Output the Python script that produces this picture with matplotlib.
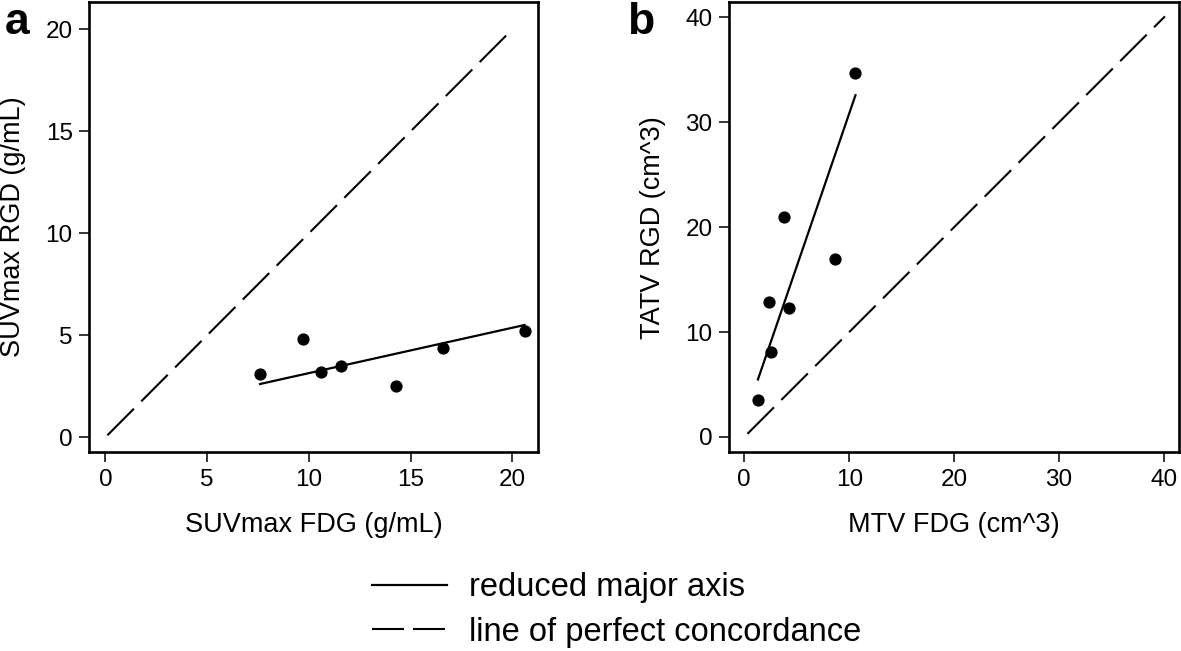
import numpy as np
import matplotlib
matplotlib.use("Agg")
import matplotlib.pyplot as plt
from matplotlib.lines import Line2D

plt.rcParams['font.family'] = ['Liberation Sans', 'DejaVu Sans']
plt.rcParams['lines.scale_dashes'] = False

# ---- data ----
suv_fdg = [7.6, 9.7, 10.6, 11.6, 14.3, 16.6, 20.6]
suv_rgd = [3.1, 4.8, 3.2, 3.5, 2.5, 4.4, 5.2]
mtv_fdg = [1.3, 2.5, 2.4, 4.3, 3.8, 8.6, 10.6]
tatv_rgd = [3.5, 8.1, 12.9, 12.3, 21.0, 17.0, 34.7]
concord_a = [0.1, 19.8]
concord_b = [0.3, 40.1]
xticks_a = [0, 5, 10, 15, 20]
yticks_a = [0, 5, 10, 15, 20]
xticks_b = [0, 10, 20, 30, 40]
yticks_b = [0, 10, 20, 30, 40]


def rma(x, y):
    x = np.asarray(x, float)
    y = np.asarray(y, float)
    r = np.corrcoef(x, y)[0, 1]
    slope = np.sign(r) * y.std() / x.std()
    inter = y.mean() - slope * x.mean()
    xs = np.array([x.min(), x.max()])
    return xs, inter + slope * xs


W, H = 1181, 651
fig = plt.figure(figsize=(W / 100, H / 100), dpi=100)


def px_axes(l, r, t, b):
    return fig.add_axes([l / W, 1 - b / H, (r - l) / W, (b - t) / H])


axA = px_axes(89.3, 538, 2, 452.3)
axB = px_axes(729.3, 1179.3, 2, 452.3)

DASH = (0, (27, 7.5))
for ax, x, y, conc, xt, yt, xl, yl, xlab, ylab in [
    (axA, suv_fdg, suv_rgd, concord_a, xticks_a, yticks_a, (-0.79, 21.26), (-0.735, 21.34),
     'SUVmax FDG (g/mL)', 'SUVmax RGD (g/mL)'),
    (axB, mtv_fdg, tatv_rgd, concord_b, xticks_b, yticks_b, (-1.43, 41.47), (-1.46, 41.47),
     'MTV FDG (cm^3)', 'TATV RGD (cm^3)'),
]:
    ax.plot(conc, conc, color='black', lw=1.5, linestyle=DASH, solid_capstyle='butt')
    rx, ry = rma(x, y)
    ax.plot(rx, ry, color='black', lw=1.6)
    ax.plot(x, y, 'o', color='black', ms=7.8, mec='black')
    ax.set_xlim(*xl)
    ax.set_ylim(*yl)
    ax.set_xticks(xt)
    ax.set_yticks(yt)
    ax.tick_params(direction='out', length=7, width=1.1, labelsize=17.5, pad=5, colors='black')
    for s in ax.spines.values():
        s.set_linewidth(1.9)
    ax.set_xlabel(xlab, fontsize=19.5, labelpad=15)
    ax.set_ylabel(ylab, fontsize=19.5, labelpad=14)

fig.text(5 / W, 1 - 34 / H, 'a', fontsize=32, fontweight='bold', ha='left', va='baseline')
fig.text(627 / W, 1 - 34 / H, 'b', fontsize=32, fontweight='bold', ha='left', va='baseline')

# ---- legend ----
handles = [Line2D([], [], color='black', lw=1.6),
           Line2D([], [], color='black', lw=1.5, linestyle=(0, (23, 6.5)))]
leg = fig.legend(handles, ['reduced major axis', 'line of perfect concordance'],
                 loc='center left', bbox_to_anchor=(372 / W, 1 - 610 / H),
                 frameon=False, fontsize=23.5, handlelength=2.3, handletextpad=0.67,
                 labelspacing=0.41, borderaxespad=0, borderpad=0)

fig.savefig('out.png', dpi=100)
